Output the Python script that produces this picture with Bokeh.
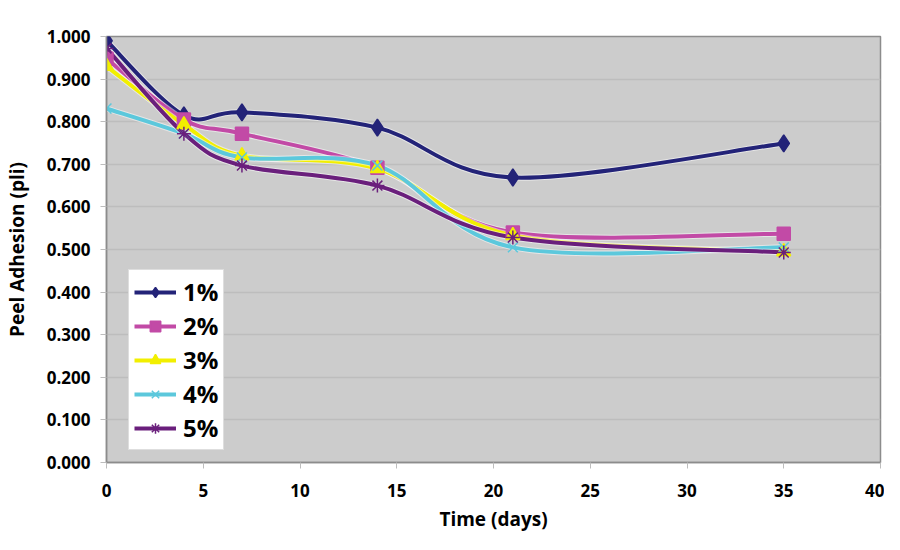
from bokeh.plotting import figure
from bokeh.models import Legend, LegendItem, SingleIntervalTicker, NumeralTickFormatter, ColumnDataSource
from bokeh.embed import file_html
from bokeh.resources import INLINE

days = [0, 4, 7, 14, 21, 35]
s1 = [0.990, 0.815, 0.822, 0.786, 0.669, 0.749]
s2 = [0.948, 0.805, 0.772, 0.692, 0.540, 0.537]
s3 = [0.930, 0.793, 0.720, 0.690, 0.533, 0.495]
s4 = [0.831, 0.772, 0.716, 0.697, 0.505, 0.505]
s5 = [0.972, 0.772, 0.697, 0.650, 0.528, 0.493]
names = ["1%", "2%", "3%", "4%", "5%"]
colors = ["#232378", "#c24aa6", "#f2ef00", "#5cc8dc", "#6a1f7c"]
markers = ["diamond", "square", "triangle", "x", "asterisk"]
series = [s1, s2, s3, s4, s5]

FONT = "Open Sans"
NAN = float("nan")

p = figure(width=884, height=534, output_backend="svg", toolbar_location=None,
           x_range=(0, 40), y_range=(0, 1.0),
           min_border_left=103, min_border_top=36, min_border_bottom=72, min_border_right=4)
p.background_fill_color = "#cccccc"
p.border_fill_color = "white"
p.outline_line_color = "#8c8c8c"
p.outline_line_width = 1.5

p.xgrid.visible = False
p.ygrid.grid_line_color = "#bdbdbd"
p.ygrid.grid_line_width = 1.5
p.ygrid.ticker = SingleIntervalTicker(interval=0.1)

p.xaxis.ticker = SingleIntervalTicker(interval=5)
p.yaxis.ticker = SingleIntervalTicker(interval=0.1)
p.yaxis.formatter = NumeralTickFormatter(format="0.000")
for ax in (p.xaxis, p.yaxis):
    ax.axis_line_color = "#8c8c8c"
    ax.axis_line_width = 1.5
    ax.major_tick_line_color = "#bdbdbd"
    ax.major_tick_out = 6
    ax.major_tick_in = 0
    ax.minor_tick_line_color = None
    ax.major_label_text_font = FONT
    ax.major_label_text_font_style = "bold"
    ax.major_label_text_font_size = "17px"
    ax.major_label_text_color = "black"
    ax.axis_label_text_font = FONT
    ax.axis_label_text_font_style = "bold"
    ax.axis_label_text_font_size = "19px"
    ax.axis_label_text_color = "black"
p.xaxis.axis_label = "Time (days)"
p.yaxis.axis_label = "Peel Adhesion (pli)"
p.xaxis.major_label_standoff = 15
p.xaxis.axis_label_standoff = 6
p.yaxis.major_label_standoff = 10
p.yaxis.axis_label_standoff = 14


def smooth(xs, ys):
    n = len(xs)
    x0, y0, x1, y1, cx0, cy0, cx1, cy1 = [], [], [], [], [], [], [], []
    for i in range(n - 1):
        im = max(i - 1, 0)
        ip2 = min(i + 2, n - 1)
        x0.append(xs[i]); y0.append(ys[i])
        x1.append(xs[i + 1]); y1.append(ys[i + 1])
        cx0.append(xs[i] + (xs[i + 1] - xs[im]) / 6.0)
        cy0.append(ys[i] + (ys[i + 1] - ys[im]) / 6.0)
        cx1.append(xs[i + 1] - (xs[ip2] - xs[i]) / 6.0)
        cy1.append(ys[i + 1] - (ys[ip2] - ys[i]) / 6.0)
    return dict(x0=x0, y0=y0, x1=x1, y1=y1, cx0=cx0, cy0=cy0, cx1=cx1, cy1=cy1)


def msize(m):
    return {"diamond": 17, "square": 13, "triangle": 14, "x": 14, "asterisk": 14}[m]


for name, ys, c, m in zip(names, series, colors, markers):
    src = ColumnDataSource(smooth(days, ys))
    p.bezier(x0="x0", y0="y0", x1="x1", y1="y1", cx0="cx0", cy0="cy0", cx1="cx1", cy1="cy1",
             source=src, line_color="white", line_width=6, line_alpha=0.5)
    p.bezier(x0="x0", y0="y0", x1="x1", y1="y1", cx0="cx0", cy0="cy0", cx1="cx1", cy1="cy1",
             source=src, line_color=c, line_width=4)

items = []
for name, ys, c, m in zip(names, series, colors, markers):
    p.scatter(days, ys, marker=m, size=msize(m), fill_color=c, line_color=c, line_width=1.5)
    lg_line = p.line([NAN, NAN], [NAN, NAN], line_color=c, line_width=4)
    lg_mk = p.scatter([NAN], [NAN], marker=m, size=msize(m), fill_color=c, line_color=c, line_width=1.5)
    items.append(LegendItem(label=name, renderers=[lg_line, lg_mk]))

legend = Legend(items=items, location=(22, 12),
                label_text_font=FONT, label_text_font_style="bold", label_text_font_size="24px",
                label_text_color="black", background_fill_color="white", background_fill_alpha=1.0,
                border_line_color="#bdbdbd", border_line_width=1,
                glyph_width=42, glyph_height=26, label_height=26, spacing=1, padding=5,
                label_standoff=7, margin=0)
p.add_layout(legend)

open("out.html", "w").write(file_html(p, INLINE))
